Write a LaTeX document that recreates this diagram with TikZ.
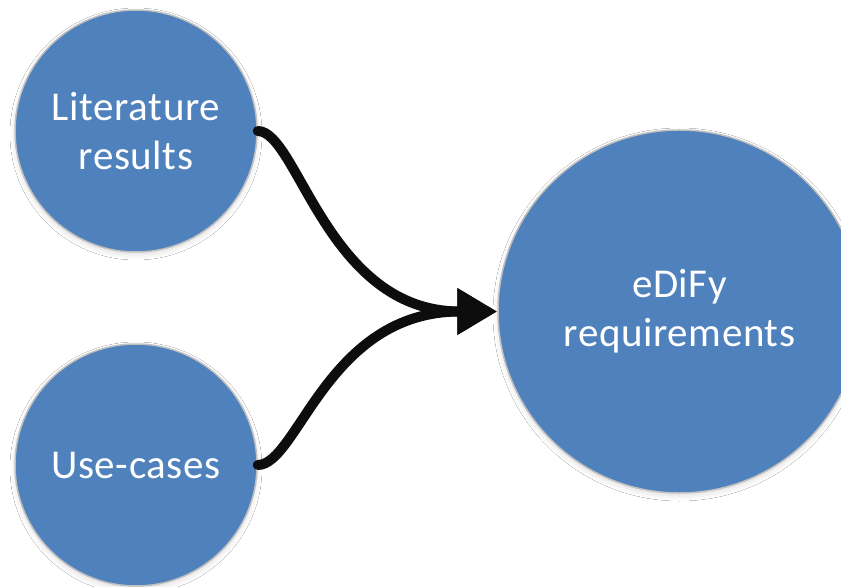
\documentclass[tikz,border=0pt]{standalone}
\usepackage{fontspec}
\setmainfont{Carlito}[LetterSpace=1.5]
\usetikzlibrary{arrows.meta,shadows.blur}
\definecolor{nodeblue}{HTML}{4F81BD}
\definecolor{rimgray}{HTML}{C0C0C0}
\definecolor{arrowblack}{HTML}{0D0D0D}
\tikzset{
  bubble/.style={circle, fill=nodeblue, draw=rimgray, line width=1.5bp,
    text=white, align=center, inner sep=0pt,
    font=\fontsize{41bp}{49bp}\selectfont,
    blur shadow={shadow xshift=0bp, shadow yshift=-3bp, shadow blur radius=5bp, shadow opacity=12}},
  flow/.style={draw=arrowblack, line width=10bp, line cap=round,
    -{Triangle[length=40bp,width=44bp]}}
}
\begin{document}
\begin{tikzpicture}[x=1bp,y=-1bp]
\clip (0,0) rectangle (841,587);
\fill[white] (0,0) rectangle (841,587);
\node[bubble, minimum size=242bp] (lit) at (136,131) {Literature\\results};
\node[bubble, minimum size=242bp] (use) at (136,465) {Use-cases};
\node[bubble, minimum size=363bp] (req) at (679.5,311.5) {eDiFy\\requirements};
\draw[flow] (lit.east) .. controls +(40,0) and +(-170,0) .. (req.west);
\draw[flow] (use.east) .. controls +(40,0) and +(-170,0) .. (req.west);
\end{tikzpicture}
\end{document}
